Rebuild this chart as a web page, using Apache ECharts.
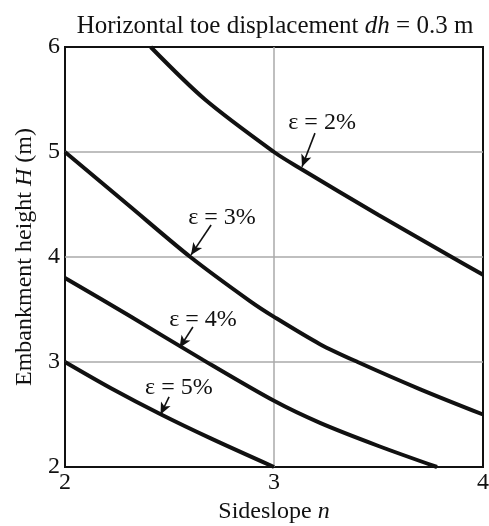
<!DOCTYPE html>
<html>
<head>
<meta charset="utf-8">
<script src="https://cdn.jsdelivr.net/npm/echarts@6/dist/echarts.min.js"></script>
<style>
  html, body { margin: 0; padding: 0; background: #fff; }
  #chart { width: 489px; height: 526px; }
</style>
</head>
<body>
<div id="chart"></div>
<script>
// --- data ---
const eps2N = [2.41, 2.67, 3.0, 3.12, 3.5, 3.85, 4.0];
const eps2H = [6.0, 5.5, 5.0, 4.85, 4.4, 4.0, 3.83];
const eps3N = [2.0, 2.3, 2.6, 2.885, 3.0, 3.22, 3.4, 3.7, 4.0];
const eps3H = [5.0, 4.5, 4.0, 3.58, 3.43, 3.17, 3.0, 2.74, 2.5];
const eps4N = [2.0, 2.3, 2.66, 3.0, 3.22, 3.5, 3.78];
const eps4H = [3.8, 3.45, 3.02, 2.63, 2.42, 2.2, 2.0];
const eps5N = [2.0, 2.22, 2.46, 2.7, 3.0];
const eps5H = [3.0, 2.75, 2.5, 2.27, 2.0];

const curveNames = ['ε = 2%', 'ε = 3%', 'ε = 4%', 'ε = 5%'];
// label centre and arrow (from -> to) in data units
const labelPos = [[3.23, 5.276], [2.751, 4.371], [2.66, 3.40], [2.545, 2.752]];
const arrowFrom = [[3.196, 5.18], [2.699, 4.305], [2.612, 3.333], [2.498, 2.667]];
const arrowTo = [[3.134, 4.86], [2.603, 4.02], [2.548, 3.135], [2.457, 2.50]];

const serif = '"Liberation Serif", "DejaVu Serif", serif';
const ink = '#111';
const pair = (xs, ys) => xs.map((x, i) => [x, ys[i]]);

const curves = [pair(eps2N, eps2H), pair(eps3N, eps3H), pair(eps4N, eps4H), pair(eps5N, eps5H)];

const chart = echarts.init(document.getElementById('chart'));

const series = curves.map((d, i) => ({
  name: curveNames[i],
  type: 'line',
  data: d,
  smooth: 0.3,
  symbol: 'none',
  clip: true,
  lineStyle: { color: '#111', width: 4 },
  z: 3
}));

// arrows pointing at the curves
series.push({
  type: 'line',
  data: [],
  silent: true,
  markLine: {
    silent: true,
    symbol: ['none', 'arrow'],
    symbolSize: [8, 12],
    label: { show: false },
    lineStyle: { color: '#111', width: 1.6, type: 'solid' },
    data: arrowFrom.map((f, i) => [{ coord: f }, { coord: arrowTo[i] }])
  }
});

// curve labels
series.push({
  type: 'scatter',
  data: labelPos.map((p, i) => ({ value: p, name: curveNames[i] })),
  symbolSize: 1,
  itemStyle: { opacity: 0 },
  silent: true,
  label: {
    show: true,
    position: 'inside',
    formatter: p => p.name,
    fontFamily: serif,
    fontSize: 24,
    color: ink,
    opacity: 1,
    textBorderWidth: 0
  },
  z: 4
});

const richText = size => ({
  a: { fontFamily: serif, fontSize: size, color: ink },
  i: { fontFamily: serif, fontSize: size, fontStyle: 'italic', color: ink }
});

chart.setOption({
  backgroundColor: '#fff',
  animation: false,
  title: {
    text: '{a|Horizontal toe displacement }{i|dh}{a| = 0.3 m}',
    left: 270,
    textAlign: 'center',
    top: 9,
    textStyle: { fontWeight: 'normal', rich: richText(25) }
  },
  grid: {
    left: 65, right: 6, top: 47, bottom: 59,
    outerBoundsMode: 'none',
    containLabel: false,
    show: true, borderColor: '#111', borderWidth: 2, backgroundColor: 'transparent'
  },
  xAxis: {
    type: 'value',
    min: 2, max: 4, interval: 1,
    name: '{a|Sideslope }{i|n}',
    nameLocation: 'middle',
    nameGap: 33,
    nameTextStyle: { rich: richText(24) },
    axisLine: { show: false },
    axisTick: { show: false },
    axisLabel: { fontFamily: serif, fontSize: 24, color: ink, margin: 4 },
    splitLine: { show: true, showMinLine: false, showMaxLine: false, lineStyle: { color: '#aaa', width: 1.5 } }
  },
  yAxis: {
    type: 'value',
    min: 2, max: 6, interval: 1,
    name: '{a|Embankment height }{i|H}{a| (m)}',
    nameLocation: 'middle',
    nameGap: 28,
    nameTextStyle: { rich: richText(24) },
    axisLine: { show: false },
    axisTick: { show: false },
    axisLabel: { fontFamily: serif, fontSize: 24, color: ink, margin: 5 },
    splitLine: { show: true, showMinLine: false, showMaxLine: false, lineStyle: { color: '#aaa', width: 1.5 } }
  },
  series: series
});
</script>
</body>
</html>
